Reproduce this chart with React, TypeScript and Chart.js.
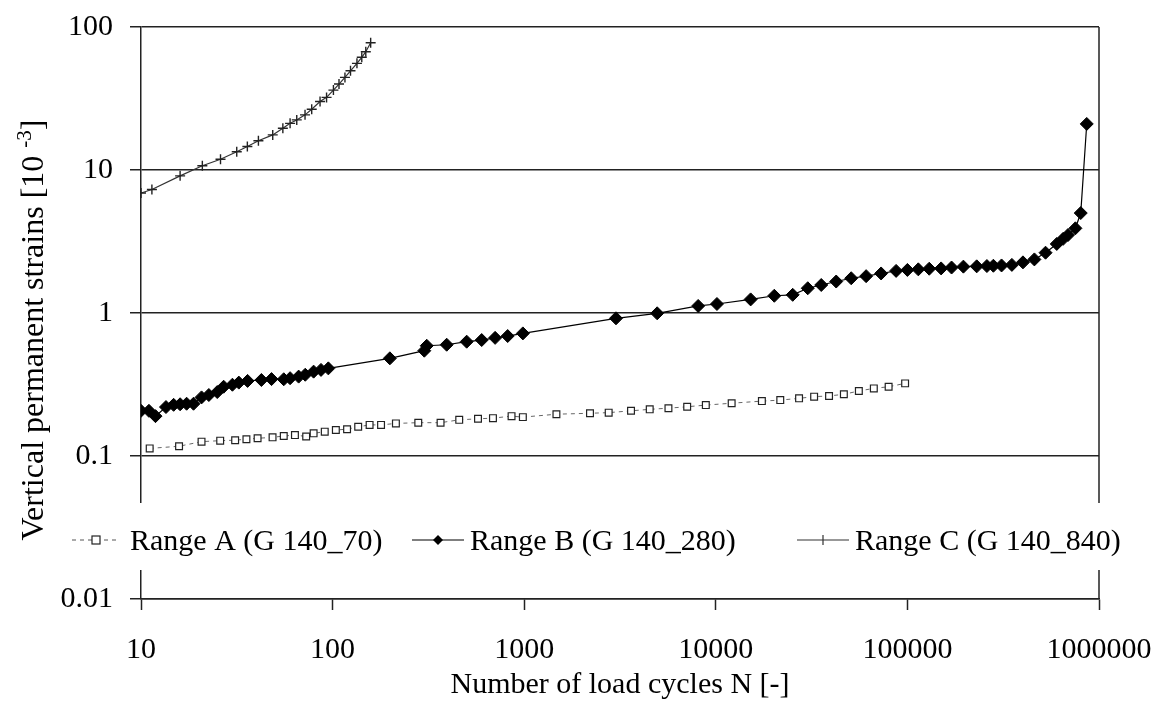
import React, { useEffect, useRef } from "react";
import { Chart, registerables } from "chart.js";

Chart.register(...registerables);

const FONT = "'Liberation Serif', 'Times New Roman', serif";

// Range A (G 140_70)
const rangeA_N = [11.1, 15.8, 20.7, 25.9, 31, 35.5, 40.6, 48.6, 55.6, 63.6, 72.8, 79.6, 91, 104, 119, 136, 156, 179, 214, 280, 366, 458, 574, 687, 859, 984, 1473, 2205, 2760, 3610, 4520, 5660, 7090, 8870, 12100, 17400, 21700, 27200, 32600, 39000, 46600, 55800, 66800, 79800, 97300];
const rangeA_e = [0.113, 0.117, 0.126, 0.128, 0.129, 0.131, 0.133, 0.135, 0.138, 0.14, 0.137, 0.144, 0.148, 0.152, 0.154, 0.16, 0.165, 0.165, 0.169, 0.171, 0.171, 0.179, 0.182, 0.184, 0.19, 0.187, 0.196, 0.199, 0.201, 0.207, 0.212, 0.216, 0.221, 0.227, 0.234, 0.242, 0.246, 0.253, 0.26, 0.263, 0.27, 0.285, 0.297, 0.305, 0.322];

// Range B (G 140_280)
const rangeB_N = [10, 11, 11.9, 13.5, 14.8, 16, 17.3, 18.8, 20.7, 22.6, 25, 27, 30, 32.4, 36, 42.5, 48, 55.6, 60, 66.5, 72, 79.6, 87, 95, 199, 301, 310, 394, 501, 600, 705, 820, 984, 3013, 4943, 8090, 10140, 15200, 20200, 25200, 30200, 35500, 42500, 50900, 60900, 72900, 87300, 100000, 114000, 130000, 150000, 170000, 196000, 230000, 260000, 281000, 310000, 351000, 401000, 460000, 526000, 602000, 650000, 689000, 753000, 803000, 863000];
const rangeB_e = [0.207, 0.207, 0.19, 0.22, 0.228, 0.23, 0.232, 0.232, 0.257, 0.267, 0.28, 0.305, 0.315, 0.326, 0.335, 0.34, 0.345, 0.344, 0.35, 0.359, 0.37, 0.389, 0.4, 0.41, 0.482, 0.545, 0.59, 0.6, 0.63, 0.647, 0.67, 0.69, 0.72, 0.918, 0.995, 1.12, 1.156, 1.245, 1.32, 1.34, 1.49, 1.57, 1.66, 1.75, 1.81, 1.89, 1.97, 2.0, 2.02, 2.04, 2.05, 2.08, 2.11, 2.12, 2.13, 2.14, 2.15, 2.17, 2.26, 2.37, 2.64, 3.04, 3.3, 3.51, 3.91, 5.0, 21];

// Range C (G 140_840)
const rangeC_N = [10, 11.4, 16, 20.9, 26, 31.6, 35.9, 41, 48.7, 55, 60, 65, 71.8, 77.8, 86, 93, 101, 108, 116, 124, 134, 142, 149, 158];
const rangeC_e = [6.9, 7.3, 9.1, 10.7, 11.9, 13.4, 14.6, 16, 17.6, 19.6, 21.2, 22.4, 24.3, 26.6, 30.1, 32.2, 36.2, 39.9, 44.4, 49.4, 55.7, 61.4, 67.2, 77.6];

const xTicks = [10, 100, 1000, 10000, 100000, 1000000];
const yTicks = [0.01, 0.1, 1, 10, 100];
const seriesNames = ["Range A (G 140_70)", "Range B (G 140_280)", "Range C (G 140_840)"];

const toPts = (xs: number[], ys: number[]) => xs.map((x, i) => ({ x, y: ys[i] }));

const overlayPlugin = {
  id: "overlay",
  afterDraw(chart: any) {
    const ctx = chart.ctx as CanvasRenderingContext2D;
    const area = chart.chartArea;
    ctx.save();
    // right border
    ctx.strokeStyle = "#222";
    ctx.lineWidth = 1.5;
    ctx.beginPath();
    ctx.moveTo(area.right, area.top);
    ctx.lineTo(area.right, area.bottom);
    ctx.stroke();

    // legend box (white, covers axis lines)
    const ly = 540;
    ctx.fillStyle = "#fff";
    ctx.fillRect(60, 503, 1105, 67);

    ctx.font = `30px ${FONT}`;
    ctx.fillStyle = "#000";
    ctx.textBaseline = "alphabetic";

    // A
    ctx.strokeStyle = "#555";
    ctx.lineWidth = 1;
    ctx.setLineDash([4, 4]);
    ctx.beginPath();
    ctx.moveTo(72, ly);
    ctx.lineTo(120, ly);
    ctx.stroke();
    ctx.setLineDash([]);
    ctx.fillStyle = "#fff";
    ctx.fillRect(92, ly - 4, 8, 8);
    ctx.strokeStyle = "#222";
    ctx.lineWidth = 1.2;
    ctx.strokeRect(92, ly - 4, 8, 8);
    ctx.fillStyle = "#000";
    ctx.fillText(seriesNames[0], 130, 550);

    // B
    ctx.strokeStyle = "#000";
    ctx.lineWidth = 1.2;
    ctx.beginPath();
    ctx.moveTo(412, ly);
    ctx.lineTo(464, ly);
    ctx.stroke();
    ctx.beginPath();
    ctx.moveTo(438, ly - 5);
    ctx.lineTo(443, ly);
    ctx.lineTo(438, ly + 5);
    ctx.lineTo(433, ly);
    ctx.closePath();
    ctx.fill();
    ctx.fillText(seriesNames[1], 470, 550);

    // C
    ctx.strokeStyle = "#333";
    ctx.beginPath();
    ctx.moveTo(797, ly);
    ctx.lineTo(849, ly);
    ctx.moveTo(823, ly - 5);
    ctx.lineTo(823, ly + 5);
    ctx.stroke();
    ctx.fillText(seriesNames[2], 855, 550);

    // x title
    ctx.textAlign = "center";
    ctx.textBaseline = "middle";
    ctx.fillText("Number of load cycles N [-]", (area.left + area.right) / 2, 685);

    // y title with superscript
    ctx.save();
    ctx.translate(43, 330);
    ctx.rotate(-Math.PI / 2);
    ctx.textAlign = "left";
    ctx.textBaseline = "alphabetic";
    const main = "Vertical permanent strains [10 ";
    const sup = "-3";
    const end = "]";
    ctx.font = `32px ${FONT}`;
    const w1 = ctx.measureText(main).width;
    const w3 = ctx.measureText(end).width;
    ctx.font = `21px ${FONT}`;
    const w2 = ctx.measureText(sup).width;
    const total = w1 + w2 + w3;
    const x0 = -total / 2;
    ctx.font = `32px ${FONT}`;
    ctx.fillText(main, x0, 0);
    ctx.font = `21px ${FONT}`;
    ctx.fillText(sup, x0 + w1, -12);
    ctx.font = `32px ${FONT}`;
    ctx.fillText(end, x0 + w1 + w2, 0);
    ctx.restore();

    ctx.restore();
  },
};

export default function App() {
  const ref = useRef<HTMLCanvasElement>(null);
  useEffect(() => {
    if (!ref.current) return;
    const chart = new Chart(ref.current, {
      type: "line",
      data: {
        datasets: [
          {
            label: seriesNames[0],
            data: toPts(rangeA_N, rangeA_e),
            borderColor: "#666",
            borderWidth: 1,
            borderDash: [4, 4],
            pointStyle: "rect",
            pointRadius: 4.8,
            pointBackgroundColor: "#fff",
            pointBorderColor: "#222",
            pointBorderWidth: 1.2,
            tension: 0,
          },
          {
            label: seriesNames[1],
            data: toPts(rangeB_N, rangeB_e),
            borderColor: "#000",
            borderWidth: 1.2,
            pointStyle: "rectRot",
            pointRadius: 6.5,
            pointBackgroundColor: "#000",
            pointBorderColor: "#000",
            pointBorderWidth: 1,
            tension: 0,
          },
          {
            label: seriesNames[2],
            data: toPts(rangeC_N, rangeC_e),
            borderColor: "#333",
            borderWidth: 1.2,
            pointStyle: "cross",
            pointRadius: 5,
            pointBorderColor: "#222",
            pointBorderWidth: 1.4,
            tension: 0,
          },
        ],
      },
      options: {
        responsive: false,
        animation: false,
        layout: { padding: { left: 0, top: 27, right: 71, bottom: 0 } },
        plugins: { legend: { display: false }, tooltip: { enabled: false } },
        scales: {
          x: {
            type: "logarithmic",
            min: 10,
            max: 1000000,
            afterBuildTicks: (s: any) => {
              s.ticks = xTicks.map((v) => ({ value: v }));
            },
            afterFit: (s: any) => {
              s.height = 108;
              s.paddingLeft = 0;
              s.paddingRight = 0;
              s.paddingTop = 0;
              s.paddingBottom = 0;
            },
            ticks: {
              autoSkip: false,
              maxRotation: 0,
              padding: 22,
              color: "#000",
              font: { family: FONT, size: 30 },
              callback: (v: any) => String(v),
            },
            grid: { drawOnChartArea: false, tickLength: 11, tickColor: "#222", tickWidth: 1.5 },
            border: { display: true, color: "#222", width: 1.5 },
          },
          y: {
            type: "logarithmic",
            min: 0.01,
            max: 100,
            afterBuildTicks: (s: any) => {
              s.ticks = yTicks.map((v) => ({ value: v }));
            },
            afterFit: (s: any) => {
              s.width = 141;
              s.paddingLeft = 0;
              s.paddingRight = 0;
              s.paddingTop = 0;
              s.paddingBottom = 0;
            },
            ticks: {
              padding: 17,
              color: "#000",
              font: { family: FONT, size: 30 },
              callback: (v: any) => String(v),
            },
            grid: { color: "#222", lineWidth: 1.5, tickLength: 11, tickColor: "#222" },
            border: { display: true, color: "#222", width: 1.5 },
          },
        },
      },
      plugins: [overlayPlugin],
    });
    return () => chart.destroy();
  }, []);
  return (
    <div style={{ position: "fixed", left: 0, top: 0, width: 1170, height: 707, background: "#fff" }}>
      <canvas ref={ref} width={1170} height={707} />
    </div>
  );
}
